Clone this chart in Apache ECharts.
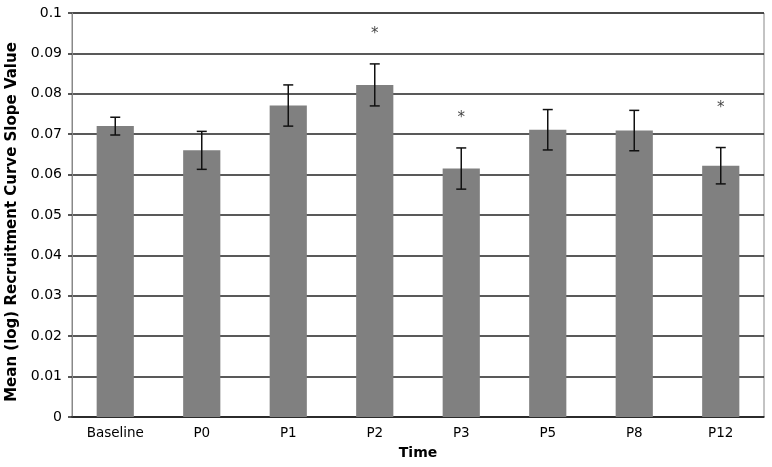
<!DOCTYPE html>
<html>
<head>
<meta charset="utf-8">
<script src="https://cdn.jsdelivr.net/npm/echarts@6/dist/echarts.min.js"></script>
<style>html,body{margin:0;padding:0;background:#fff}#c{width:772px;height:467px}</style>
</head>
<body>
<div id="c"></div>
<script>
const categories = ['Baseline','P0','P1','P2','P3','P5','P8','P12'];
const means = [0.0720, 0.0660, 0.0771, 0.0822, 0.0615, 0.0711, 0.0709, 0.0622];
const errors = [0.0022, 0.0047, 0.0051, 0.0052, 0.0051, 0.0050, 0.0050, 0.0045];
const starCats = ['P2','P3','P12'];
const starValues = [0.0954, 0.0748, 0.0772];

const chart = echarts.init(document.getElementById('c'), null, {renderer:'canvas'});
const errData = categories.map((c,i)=>[i, means[i]-errors[i], means[i]+errors[i]]);
const starData = starCats.map((c,i)=>[c, starValues[i]]);
const font = '"DejaVu Sans", Verdana, sans-serif';
chart.setOption({
  animation:false,
  grid:{left:72,right:8,top:13,bottom:50,show:true,borderColor:'#888',borderWidth:1,
    containLabel:false,outerBoundsMode:'none'},
  xAxis:{
    type:'category',data:categories,
    name:'Time',nameLocation:'middle',nameGap:29,
    nameTextStyle:{fontFamily:font,fontWeight:'bold',fontSize:14,color:'#000'},
    axisLine:{lineStyle:{color:'#222',width:1.5}},
    axisTick:{show:false},
    axisLabel:{fontFamily:font,fontSize:13.5,color:'#000',margin:9}
  },
  yAxis:{
    type:'value',min:0,max:0.1,interval:0.01,
    name:'Mean (log) Recruitment Curve Slope Value',nameLocation:'middle',nameGap:45,
    nameTextStyle:{fontFamily:font,fontWeight:'bold',fontSize:15,color:'#000',padding:[0,14,0,0]},
    axisLine:{show:true,lineStyle:{color:'#888',width:1}},
    axisTick:{show:true,length:4,lineStyle:{color:'#222',width:1.5}},
    axisLabel:{fontFamily:font,fontSize:14,color:'#000',margin:10,
      formatter:v=>String(+v.toFixed(2))},
    splitLine:{lineStyle:{color:'#222',width:1.5}}
  },
  series:[
    {type:'bar',data:means,barWidth:'43%',itemStyle:{color:'#808080'},z:3},
    {type:'custom',data:errData,z:5,
      renderItem:function(params,api){
        const x = api.value(0);
        const lo = api.coord([x, api.value(1)]);
        const hi = api.coord([x, api.value(2)]);
        const w = 5;
        const st = {stroke:'#111',lineWidth:1.5};
        return {type:'group',children:[
          {type:'line',shape:{x1:lo[0],y1:lo[1],x2:hi[0],y2:hi[1]},style:st},
          {type:'line',shape:{x1:lo[0]-w,y1:lo[1],x2:lo[0]+w,y2:lo[1]},style:st},
          {type:'line',shape:{x1:hi[0]-w,y1:hi[1],x2:hi[0]+w,y2:hi[1]},style:st}
        ]};
      }
    },
    {type:'scatter',data:starData,symbolSize:0,z:6,
      label:{show:true,position:'inside',formatter:'*',fontFamily:font,fontSize:15,color:'#111',offset:[0,3]}
    }
  ]
});
</script>
</body>
</html>
